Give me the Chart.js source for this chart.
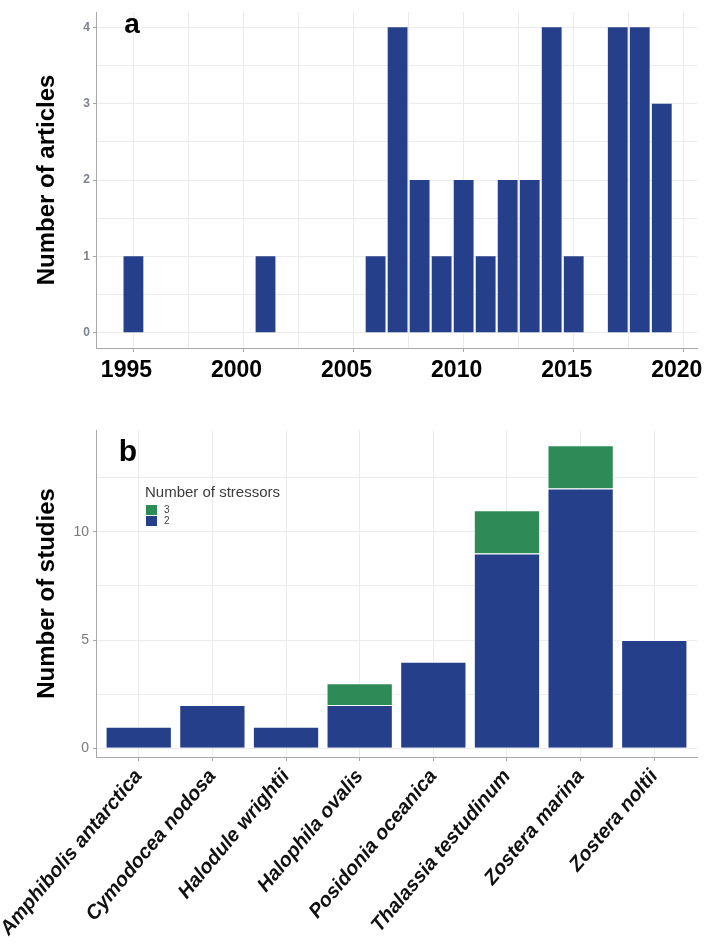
<!DOCTYPE html>
<html>
<head>
<meta charset="utf-8">
<script src="https://cdn.jsdelivr.net/npm/chart.js@4.4.1/dist/chart.umd.min.js"></script>
<style>
  body { margin: 0; background: #fff; }
  #wrap { position: relative; width: 707px; height: 946px; }
  #chartA { position: absolute; left: 0; top: 0; }
  #chartB { position: absolute; left: 0; top: 400px; }
</style>
</head>
<body>
<div id="wrap">
  <canvas id="chartA" width="707" height="400"></canvas>
  <canvas id="chartB" width="707" height="546"></canvas>
</div>
<script>
// panel a: articles per year
const years = [1995, 2001, 2006, 2007, 2008, 2009, 2010, 2011, 2012, 2013, 2014, 2015, 2017, 2018, 2019];
const articleCounts = [1, 1, 1, 4, 2, 1, 2, 1, 2, 2, 4, 1, 4, 4, 3];
const yearTicks = [1995, 2000, 2005, 2010, 2015, 2020];
const articleTicks = [0, 1, 2, 3, 4];

// panel b: studies per species, split by number of stressors
const species = ["Amphibolis antarctica", "Cymodocea nodosa", "Halodule wrightii", "Halophila ovalis",
  "Posidonia oceanica", "Thalassia testudinum", "Zostera marina", "Zostera noltii"];
const stressors2 = [1, 2, 1, 2, 4, 9, 12, 5];
const stressors3 = [0, 0, 0, 1, 0, 2, 2, 0];
const studyTicks = [0, 5, 10];

const BLUE = "#263f8b";
const GREEN = "#2e8b57";
const GRID = "#ececec";
const AXIS = "#a8a8a8";
const FONT = "'Liberation Sans', Arial, sans-serif";

// major ticks plus the half-way minor ones (ggplot style grid)
function withMinor(major, max) {
  const step = major[1] - major[0];
  const out = [];
  for (let v = major[0]; v <= max + 1e-9; v += step / 2) out.push(v);
  return out;
}

const panelLetter = {
  id: "panelLetter",
  afterDraw(chart, args, opts) {
    const { ctx, chartArea } = chart;
    ctx.save();
    ctx.font = "bold " + opts.size + "px " + FONT;
    ctx.fillStyle = "#000";
    ctx.textAlign = "center";
    ctx.textBaseline = "alphabetic";
    ctx.fillText(opts.text, chartArea.left + opts.dx, chartArea.top + opts.dy);
    ctx.restore();
  }
};

const stressLegend = {
  id: "stressLegend",
  afterDraw(chart, args, opts) {
    if (!opts.show) return;
    const { ctx, chartArea } = chart;
    const x = chartArea.left + 49;
    let y = chartArea.top + 63;
    ctx.save();
    ctx.fillStyle = "#3c3c3c";
    ctx.font = "15px " + FONT;
    ctx.textBaseline = "middle";
    ctx.fillText("Number of stressors", x, y);
    y += 12;
    const items = chart.data.datasets.slice().reverse();
    ctx.font = "10px " + FONT;
    items.forEach(ds => {
      ctx.fillStyle = ds.backgroundColor;
      ctx.fillRect(x + 1, y, 11, 10);
      ctx.fillStyle = "#444";
      ctx.fillText(ds.label, x + 19, y + 5);
      y += 11;
    });
    ctx.restore();
  }
};

Chart.register(panelLetter, stressLegend);

const tickColor = majors => ctx => (ctx.tick && majors.includes(ctx.tick.value)) ? AXIS : "rgba(0,0,0,0)";

// ---------- panel a ----------
new Chart(document.getElementById("chartA"), {
  type: "bar",
  data: {
    datasets: [{
      label: "Number of articles",
      data: years.map((yr, i) => ({ x: yr, y: articleCounts[i] })),
      backgroundColor: BLUE,
      borderWidth: 0,
      barPercentage: 0.9,
      categoryPercentage: 1
    }]
  },
  options: {
    responsive: false,
    animation: false,
    layout: { padding: { top: 12, right: 10, left: 0, bottom: 0 } },
    plugins: {
      legend: { display: false },
      tooltip: { enabled: false },
      panelLetter: { text: "a", size: 28, dx: 36, dy: 21 },
      stressLegend: { show: false }
    },
    scales: {
      x: {
        type: "linear",
        offset: false,
        min: 1993.3,
        max: 2020.6,
        afterBuildTicks: s => { s.ticks = withMinor(yearTicks, 2020).map(v => ({ value: v })); },
        afterFit: s => { s.height = 52; s.paddingLeft = 0; s.paddingRight = 0; },
        ticks: {
          callback: v => yearTicks.includes(v) ? String(v) : "",
          font: { family: FONT, size: 23, weight: "bold" },
          color: "#000",
          padding: 5,
          labelOffset: -7,
          maxRotation: 0,
          autoSkip: false
        },
        grid: { offset: false, color: GRID, tickLength: 4, tickColor: tickColor(yearTicks) },
        border: { color: AXIS, width: 1 }
      },
      y: {
        min: -0.2,
        max: 4.2,
        afterBuildTicks: s => { s.ticks = withMinor(articleTicks, 4).map(v => ({ value: v })); },
        afterFit: s => { s.width = 96; },
        ticks: {
          callback: v => articleTicks.includes(v) ? String(v) : "",
          font: { family: FONT, size: 12, weight: "bold" },
          color: "#7d8190",
          padding: 3
        },
        grid: { color: GRID, tickLength: 3, tickColor: tickColor(articleTicks) },
        border: { color: AXIS, width: 1 },
        title: {
          display: true,
          text: "Number of articles",
          font: { family: FONT, size: 24, weight: "bold" },
          color: "#000",
          padding: { top: 33, bottom: 0 }
        }
      }
    }
  }
});

// ---------- panel b ----------
new Chart(document.getElementById("chartB"), {
  type: "bar",
  data: {
    datasets: [
      {
        label: "2",
        data: stressors2.map((v, i) => ({ x: i, y: v })),
        backgroundColor: BLUE
      },
      {
        label: "3",
        data: stressors3.map((v, i) => ({ x: i, y: v })).filter(p => p.y > 0),
        backgroundColor: GREEN
      }
    ]
  },
  options: {
    responsive: false,
    animation: false,
    datasets: {
      bar: { borderColor: "#fff", borderWidth: 1, barPercentage: 0.9, categoryPercentage: 1 }
    },
    layout: { padding: { top: 30, right: 10, left: 0, bottom: 0 } },
    plugins: {
      legend: { display: false },
      tooltip: { enabled: false },
      panelLetter: { text: "b", size: 30, dx: 32, dy: 31 },
      stressLegend: { show: true }
    },
    scales: {
      x: {
        type: "linear",
        offset: false,
        stacked: true,
        min: -0.58,
        max: 7.58,
        afterBuildTicks: s => { s.ticks = species.map((n, i) => ({ value: i })); },
        afterFit: s => { s.height = 189; s.paddingLeft = 0; s.paddingRight = 0; },
        ticks: {
          callback: v => species[v] || "",
          font: { family: FONT, size: 20, weight: "bold", style: "italic" },
          color: "#111",
          padding: 4,
          minRotation: 50,
          maxRotation: 50,
          autoSkip: false
        },
        grid: { offset: false, color: GRID, tickLength: 4, tickColor: AXIS },
        border: { color: AXIS, width: 1 }
      },
      y: {
        stacked: true,
        min: -0.4,
        max: 14.7,
        afterBuildTicks: s => { s.ticks = withMinor(studyTicks, 14).map(v => ({ value: v })); },
        afterFit: s => { s.width = 96; },
        ticks: {
          callback: v => studyTicks.includes(v) ? String(v) : "",
          font: { family: FONT, size: 14 },
          color: "#7a7a7a",
          padding: 4
        },
        grid: { color: GRID, tickLength: 3, tickColor: tickColor(studyTicks) },
        border: { color: AXIS, width: 1 },
        title: {
          display: true,
          text: "Number of studies",
          font: { family: FONT, size: 24, weight: "bold" },
          color: "#000",
          padding: { top: 33, bottom: 0 }
        }
      }
    }
  }
});
</script>
</body>
</html>
